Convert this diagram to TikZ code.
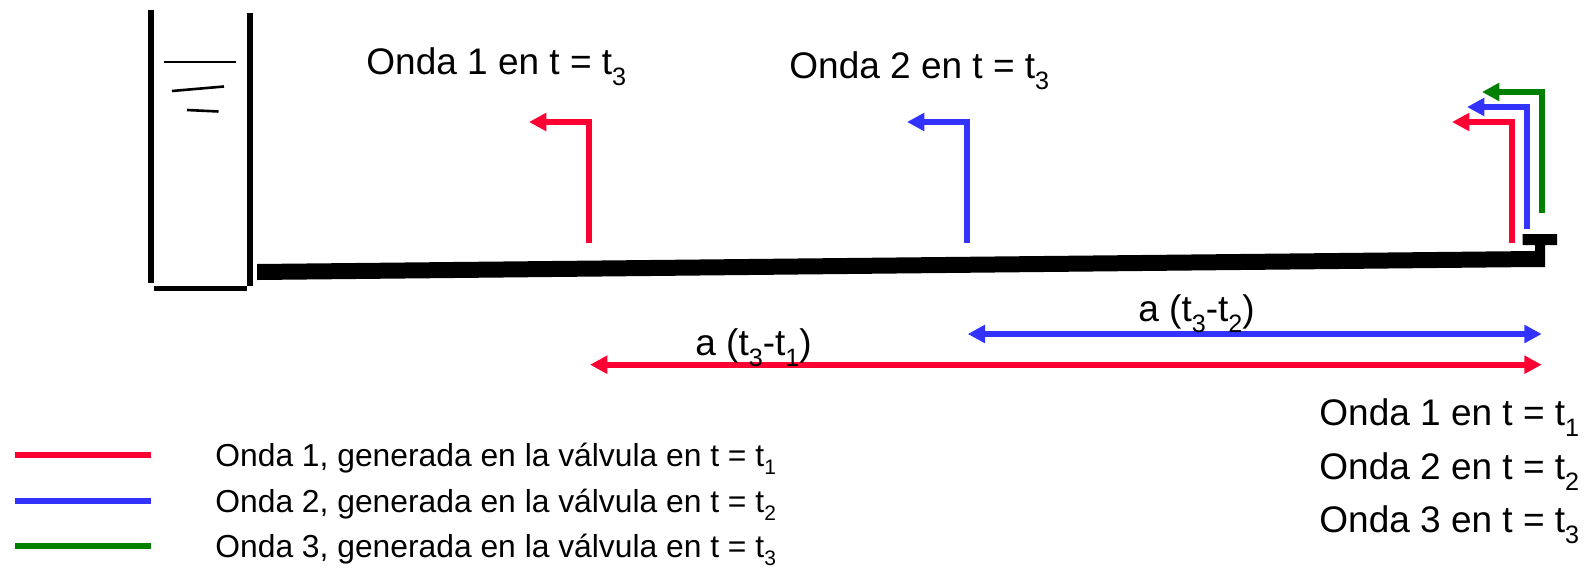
\documentclass[tikz,border=0pt]{standalone}
\usepackage{fontspec}
\setmainfont{Liberation Sans}
\usetikzlibrary{arrows.meta}
\definecolor{ondared}{RGB}{255,0,51}
\definecolor{ondablue}{RGB}{51,51,255}
\definecolor{ondagreen}{RGB}{0,128,0}
\newcommand{\tsub}[1]{\raisebox{-0.58ex}{\scalebox{0.68}{#1}}}
\newcommand{\ksub}[1]{\raisebox{-0.48ex}{\scalebox{0.66}{#1}}}
\tikzset{
  wall/.style     = {line width=2.8pt,black},
  wave/.style     = {line width=3pt,-{Triangle[length=8.7pt,width=8.7pt]}},
  span/.style     = {line width=3pt,{Triangle[length=8.7pt,width=8.7pt]}-{Triangle[length=8.7pt,width=8.7pt]}},
  key/.style      = {line width=3pt},
  bigtxt/.style   = {anchor=base west,inner sep=0pt,font=\fontsize{18.5pt}{22pt}\selectfont},
  keytxt/.style   = {anchor=base west,inner sep=0pt,font=\fontsize{15.9pt}{19pt}\selectfont},
}
\begin{document}
\begin{tikzpicture}[x=0.5pt,y=-0.5pt]
  \useasboundingbox (0,0) rectangle (1590,568);
  % tank
  \draw[wall] (151,10) -- (151,283);
  \draw[wall] (250,13) -- (250,286);
  \draw[wall] (154,288.5) -- (247,288.5);
  \draw[line width=1.3pt] (164,62) -- (236,62);
  \draw[line width=1.3pt] (172,91) -- (224,86.5);
  \draw[line width=1.3pt] (187,110) -- (218.5,111.5);
  % pipe and valve
  \fill (257,264) -- (1535,251) -- (1535,245) -- (1522.7,245) -- (1522.7,234) -- (1557,234)
        -- (1557,245) -- (1545,245) -- (1545,267) -- (1535,267) -- (257,280) -- cycle;
  % travelling waves
  \foreach \name/\xa/\ya/\yb/\xb/\col in {one/589/243/122/529/ondared,two/967/243/122/907/ondablue,
      r/1512/243/122/1452/ondared,b/1527/229/107/1467/ondablue,g/1542/213/92/1482/ondagreen}{
    \coordinate (\name s) at (\xa,\ya);
    \coordinate (\name e) at (\xb,\yb);
    \draw[wave,\col] (\name s) |- (\name e);
  }
  % distances
  \coordinate (dbl) at (967.7,334);
  \coordinate (dbr) at (1541.7,334);
  \coordinate (drl) at (590,364.7);
  \coordinate (drr) at (1541.7,364.7);
  \draw[span,ondablue] (dbl) -- (dbr);
  \draw[span,ondared] (drl) -- (drr);
  % labels
  \node[bigtxt] (lone) at (366,74) {Onda 1 en t = t\tsub{3}};
  \node[bigtxt] (ltwo) at (789,78) {Onda 2 en t = t\tsub{3}};
  \node[bigtxt] (dtwo) at (1138,321) {a (t\tsub{3}-t\tsub{2})};
  \node[bigtxt] (done) at (695,355) {a (t\tsub{3}-t\tsub{1})};
  \node[bigtxt] (vone) at (1319,425) {Onda 1 en t = t\tsub{1}};
  \node[bigtxt] (vtwo) at (1319,479) {Onda 2 en t = t\tsub{2}};
  \node[bigtxt] (vthr) at (1319,532.5) {Onda 3 en t = t\tsub{3}};
  % legend
  \foreach \y/\n/\col in {455/1/ondared,501/2/ondablue,546/3/ondagreen}{
    \coordinate (k\n a) at (15,\y);
    \coordinate (k\n b) at (151,\y);
    \draw[key,\col] (k\n a) -- (k\n b);
    \node[keytxt] (t\n) at (215,\y+11) {Onda \n, generada en la válvula en t = t\ksub{\n}};
  }
\end{tikzpicture}
\end{document}
